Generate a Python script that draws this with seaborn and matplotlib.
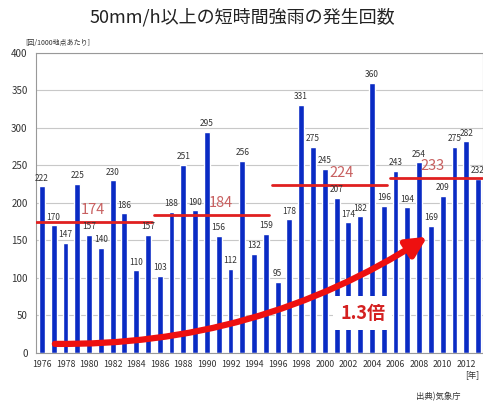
import numpy as np
import pandas as pd
import matplotlib
matplotlib.use("Agg")
import matplotlib.pyplot as plt
import seaborn as sns

sns.set_style("white")
plt.rcParams['font.family'] = ['Noto Sans CJK JP', 'DejaVu Sans']

# 年ごとの発生回数 (1000地点あたり)
years = list(range(1976, 2014))
counts = [222, 170, 147, 225, 157, 140, 230, 186, 110, 157,
          103, 188, 251, 190, 295, 156, 112, 256, 132, 159,
          95, 178, 331, 275, 245, 207, 174, 182, 360, 196,
          243, 194, 254, 169, 209, 275, 282, 232]

# 期間平均
period_start = [1976, 1986, 1996, 2006]
period_end = [1985, 1995, 2005, 2013]
period_mean = [174, 184, 224, 233]

df = pd.DataFrame({'year': [str(y) for y in years], 'count': counts})

fig = plt.figure(figsize=(4.83, 4.01), dpi=100)
ax = fig.add_axes([0.0745, 0.12, 0.925, 0.748])

sns.barplot(data=df, x='year', y='count', color='#0a2bc4', saturation=1,
            width=0.5, ax=ax, zorder=2)

# 棒の上の値
for i, v in enumerate(counts):
    ax.text(i, v + 5, str(v), ha='center', va='bottom', fontsize=6,
            color='#333333', zorder=4)

# 期間平均の線
label_dx = [4.3, 5.2, 5.4, 3.1]
for s, e, m, dx in zip(period_start, period_end, period_mean, label_dx):
    x0 = s - years[0] - 0.5
    x1 = e - years[0] + 0.3
    ax.plot([x0, x1], [m, m], color='#e02020', lw=2, zorder=3)
    ax.text(s - years[0] + dx, m + 7, str(m), ha='center', va='bottom',
            fontsize=10.5, color='#c86060', zorder=4)

# 増加を示す矢印
ax.annotate('', xy=(32.7, 155), xytext=(1.1, 12),
            arrowprops=dict(arrowstyle='-|>,head_length=1.2,head_width=0.6',
                            color='#ee1010', lw=4.5,
                            connectionstyle='arc3,rad=0.15',
                            shrinkA=0, shrinkB=0),
            zorder=5)

ax.text(27.2, 53, '1.3倍', ha='center', va='center', fontsize=13,
        fontweight='bold', color='#d42020', zorder=6,
        bbox=dict(boxstyle='square,pad=0.4', fc='white', ec='none'))

ax.set_xlim(-0.5, 37.4)
ax.set_ylim(0, 400)
ax.set_yticks(range(0, 401, 50))
ax.set_xticks(range(0, len(years), 2))
ax.set_xticklabels([str(y) for y in years[::2]], fontsize=6.3, color='#333333')
ax.tick_params(axis='y', labelsize=7, colors='#333333', length=0, pad=6)
ax.tick_params(axis='x', length=0, pad=5)
ax.yaxis.grid(True, color='#c8c8c8', lw=0.8, zorder=0)
ax.set_axisbelow(True)
ax.set_xlabel('')
ax.set_ylabel('')
for sp in ax.spines.values():
    sp.set_color('#999999')
    sp.set_linewidth(0.8)

fig.text(0.502, 0.958, '50mm/h以上の短時間強雨の発生回数', ha='center',
         va='center', fontsize=13, color='#222222')
fig.text(0.052, 0.893, '[回/1000地点あたり]', ha='left', va='center',
         fontsize=5, color='#333333')
fig.text(0.977, 0.067, '[年]', ha='center', va='center', fontsize=6,
         color='#333333')
fig.text(0.907, 0.012, '出典)気象庁', ha='center', va='center', fontsize=6,
         color='#333333')

fig.savefig('out.png', dpi=100)
